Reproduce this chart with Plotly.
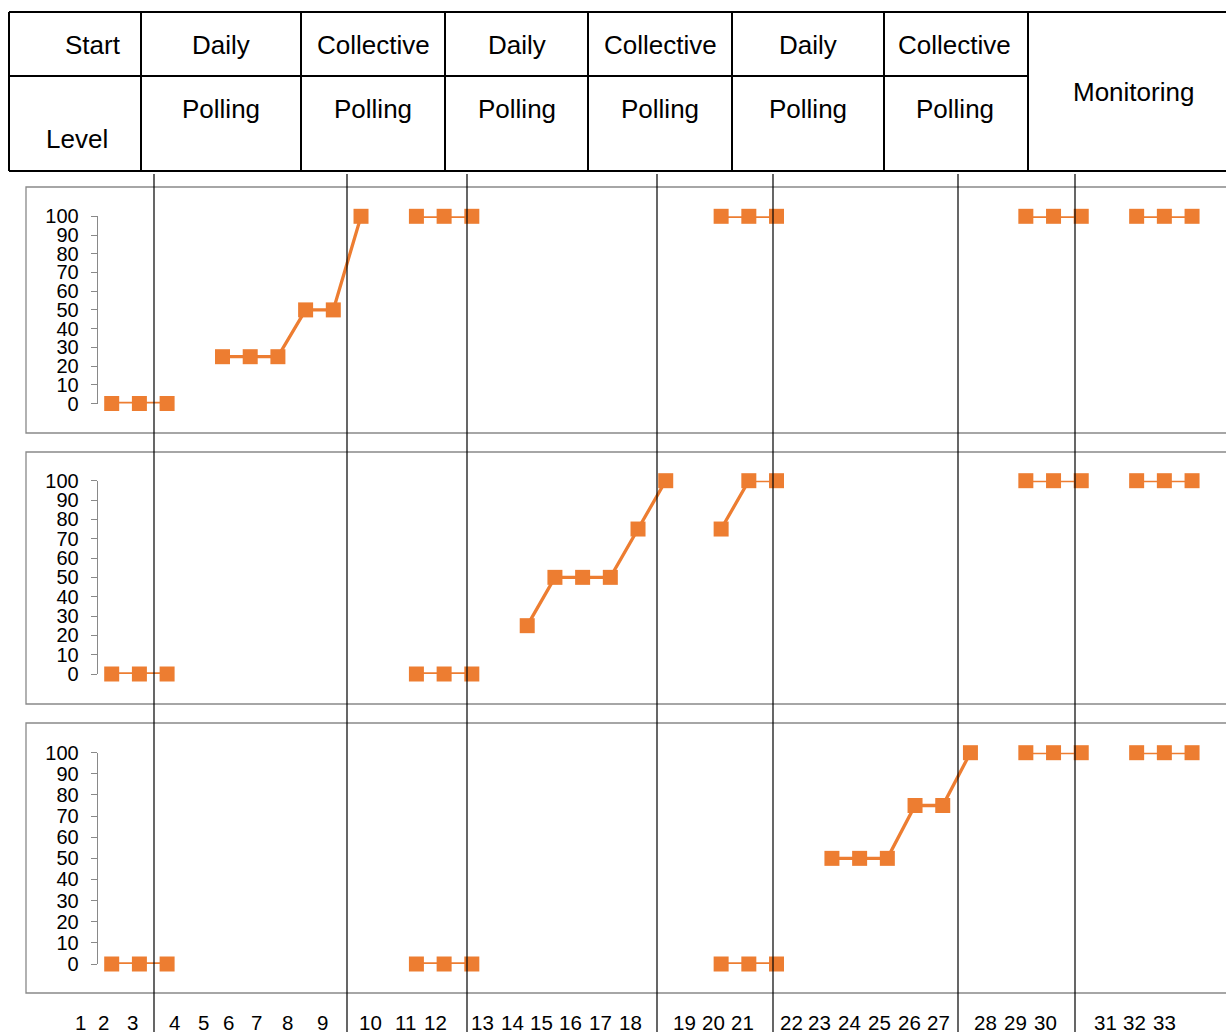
import plotly.graph_objects as go

W, H = 1226, 1032

# ---------------- data ----------------
# 40 slots on the category axis (33 sessions + 7 empty slots at phase changes); None = no data
panel1_values = [0, 0, 0, None, 25, 25, 25, 50, 50, 100, None, 100, 100, 100, None,
                 None, None, None, None, None, None, None, 100, 100, 100, None,
                 None, None, None, None, None, None, None, 100, 100, 100, None, 100, 100, 100]
panel2_values = [0, 0, 0, None, None, None, None, None, None, None, None, 0, 0, 0, None,
                 25, 50, 50, 50, 75, 100, None, 75, 100, 100, None,
                 None, None, None, None, None, None, None, 100, 100, 100, None, 100, 100, 100]
panel3_values = [0, 0, 0, None, None, None, None, None, None, None, None, 0, 0, 0, None,
                 None, None, None, None, None, None, None, 0, 0, 0, None,
                 50, 50, 50, 75, 75, 100, None, 100, 100, 100, None, 100, 100, 100]

y_ticks = [0, 10, 20, 30, 40, 50, 60, 70, 80, 90, 100]
session_labels = [str(i) for i in range(1, 34)]

header_row1 = ["Start", "Daily", "Collective", "Daily", "Collective", "Daily", "Collective"]
header_row2 = ["Level", "Polling", "Polling", "Polling", "Polling", "Polling", "Polling"]
header_span = "Monitoring"

# ---------------- layout helpers (pixel positions) ----------------
def px(x):
    return x / W

def py(y):
    return 1 - y / H

ORANGE = "#ED7D31"
GRAY = "#898989"
FONT = "Arial, Liberation Sans, sans-serif"

x_dom = [px(97.85), px(1205.9)]
y_doms = [
    [py(403.5), py(216.3)],
    [py(674.0), py(480.7)],
    [py(964.0), py(752.7)],
]

fig = go.Figure()
for k, vals in enumerate([panel1_values, panel2_values, panel3_values]):
    suffix = "" if k == 0 else str(k + 1)
    fig.add_trace(go.Scatter(
        x=list(range(len(vals))), y=vals, mode="lines+markers",
        line=dict(color=ORANGE, width=3.3),
        marker=dict(symbol="square", size=15, color=ORANGE,
                    line=dict(width=0)),
        connectgaps=False, cliponaxis=False, showlegend=False,
        xaxis="x" + suffix, yaxis="y" + suffix,
    ))

layout = dict(
    template="none",
    width=W, height=H, autosize=False,
    margin=dict(l=0, r=0, t=0, b=0, pad=0),
    paper_bgcolor="white", plot_bgcolor="rgba(0,0,0,0)",
    font=dict(family=FONT, color="black"),
    showlegend=False,
)
for k in range(3):
    suffix = "" if k == 0 else str(k + 1)
    layout["xaxis" + suffix] = dict(
        domain=x_dom, range=[-0.5, 39.5], visible=False, automargin=False,
        anchor="y" + suffix, fixedrange=True,
    )
    layout["yaxis" + suffix] = dict(
        domain=y_doms[k], range=[0, 100], anchor="x" + suffix, automargin=False,
        tickvals=y_ticks, ticktext=[str(v) for v in y_ticks],
        showline=True, linecolor=GRAY, linewidth=1.3,
        ticks="outside", ticklen=6, tickcolor=GRAY, tickwidth=1.3,
        showgrid=False, zeroline=False, fixedrange=True,
        tickfont=dict(size=20, family=FONT, color="black"),
        ticklabelstandoff=8,
    )
fig.update_layout(**layout)

shapes = []
# panel boxes
for top, bot in [(187, 433), (452, 704), (723, 993)]:
    shapes.append(dict(type="rect", xref="paper", yref="paper",
                       x0=px(26), x1=px(1240), y0=py(bot), y1=py(top),
                       line=dict(color=GRAY, width=1.3), layer="below"))

# header table
TL = dict(color="black", width=2)
shapes.append(dict(type="line", xref="paper", yref="paper", x0=px(9), x1=px(1240), y0=py(12), y1=py(12), line=TL))
shapes.append(dict(type="line", xref="paper", yref="paper", x0=px(9), x1=px(1240), y0=py(171), y1=py(171), line=TL))
shapes.append(dict(type="line", xref="paper", yref="paper", x0=px(9), x1=px(1028), y0=py(76), y1=py(76), line=TL))
col_edges = [9, 141, 301, 445, 588, 732, 884, 1028]
for cx in col_edges:
    shapes.append(dict(type="line", xref="paper", yref="paper", x0=px(cx), x1=px(cx),
                       y0=py(12), y1=py(171), line=TL))

# phase-change lines
phase_px = [154, 347, 467, 657, 773, 958, 1075]
for lx in phase_px:
    shapes.append(dict(type="line", xref="paper", yref="paper", x0=px(lx), x1=px(lx),
                       y0=py(174), y1=py(1040), line=dict(color="black", width=1.2)))

annotations = []
HF = dict(size=26, family=FONT, color="black")
row1_x = [93, 221, 373, 517, 660, 808, 955]
row2_x = [77, 221, 373, 517, 660, 808, 955]
row2_y = [139, 109, 109, 109, 109, 109, 109]
for t, x in zip(header_row1, row1_x):
    annotations.append(dict(text=t, x=px(x), y=py(45), xref="paper", yref="paper",
                            showarrow=False, xanchor="center", yanchor="middle", font=HF))
for t, x, y in zip(header_row2, row2_x, row2_y):
    annotations.append(dict(text=t, x=px(x), y=py(y), xref="paper", yref="paper",
                            showarrow=False, xanchor="center", yanchor="middle", font=HF))
annotations.append(dict(text=header_span, x=px(1133), y=py(92), xref="paper", yref="paper",
                        showarrow=False, xanchor="center", yanchor="middle", font=HF))

label_px = [80, 103, 132, 174, 203, 228, 256, 287, 322, 370, 405, 435, 482, 512, 541, 570, 600,
            630, 685, 713, 742, 791, 820, 849, 879, 909, 938, 985, 1015, 1045, 1105, 1134, 1164]
for t, x in zip(session_labels, label_px):
    annotations.append(dict(text=t, x=px(x), y=py(1022), xref="paper", yref="paper",
                            showarrow=False, xanchor="center", yanchor="middle",
                            font=dict(size=20.5, family=FONT, color="black")))

fig.update_layout(shapes=shapes, annotations=annotations)
fig.write_html(
    "out.html",
    config={"displayModeBar": False},
    post_script=(
        "document.documentElement.style.margin='0';"
        "document.documentElement.style.padding='0';"
        "document.documentElement.style.overflow='hidden';"
        "document.body.style.margin='0';"
        "document.body.style.padding='0';"
        "document.body.style.overflow='hidden';"
    ),
)
